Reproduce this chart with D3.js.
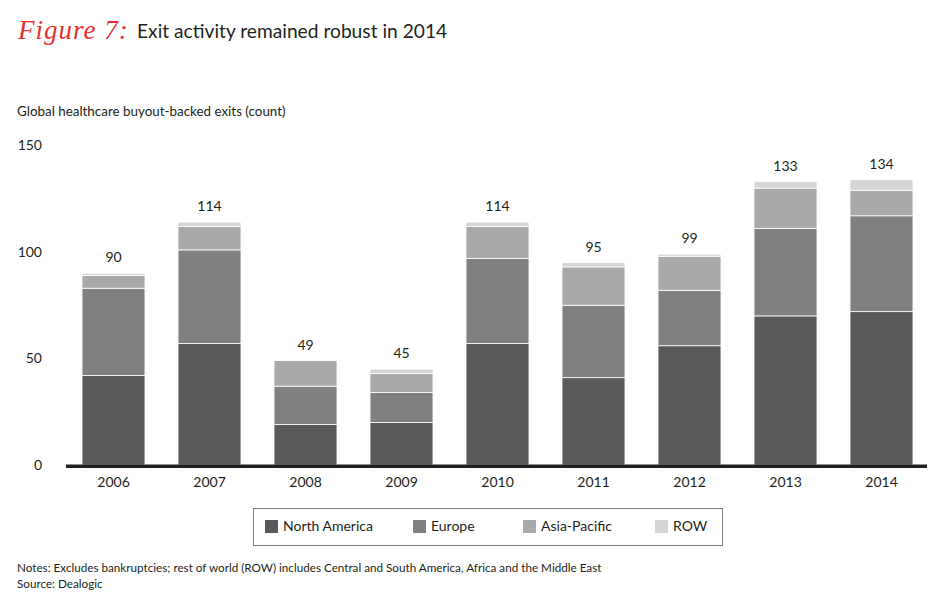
<!DOCTYPE html>
<html>
<head>
<meta charset="utf-8">
<script src="https://cdn.jsdelivr.net/npm/d3@7"></script>
<style>
	html, body { margin: 0; padding: 0; background: #fff; }
	svg text { font-family: Lato, "Open Sans", sans-serif; fill: #231f20; }
</style>
</head>
<body>
<svg id="chart" width="950" height="600"></svg>
<script>
// data
const years = ["2006", "2007", "2008", "2009", "2010", "2011", "2012", "2013", "2014"];
const regions = ["North America", "Europe", "Asia-Pacific", "ROW"];
const northAmerica = [42, 57, 19, 20, 57, 41, 56, 70, 72];
const europe       = [41, 44, 18, 14, 40, 34, 26, 41, 45];
const asiaPacific  = [6, 11, 12, 9, 15, 18, 16, 19, 12];
const row          = [1, 2, 0, 2, 2, 2, 1, 3, 5];
const totals       = [90, 114, 49, 45, 114, 95, 99, 133, 134];
const yTicks = [0, 50, 100, 150];

const colors = ["#59595b", "#808083", "#a8a9ab", "#d5d5d7"];

const svg = d3.select("#chart");

// 차트 영역
const x = d3.scaleBand()
			.domain(years)
			.range([65.5, 929.5])
			.paddingInner(0.344)
			.paddingOuter(0.172);

const y = d3.scaleLinear()
			.domain([0, 150])
			.range([465, 145.5]);

const table = years.map((yr, i) => ({
	year: yr,
	"North America": northAmerica[i],
	"Europe": europe[i],
	"Asia-Pacific": asiaPacific[i],
	"ROW": row[i]
}));

const series = d3.stack().keys(regions)(table);
const color = d3.scaleOrdinal().domain(regions).range(colors);

drawTitle();
drawBars();
drawAxes();
drawLegend();
drawNotes();

/** 제목 */
function drawTitle() {
	svg.append("text")
	   .attr("x", 18).attr("y", 39)
	   .style("font-family", "'Liberation Serif', serif")
	   .style("font-style", "italic")
	   .style("font-size", "27px")
	   .style("letter-spacing", "1px")
	   .style("fill", "#e8312f")
	   .text("Figure 7:");

	svg.append("text")
	   .attr("x", 137).attr("y", 38)
	   .style("font-size", "19.2px")
	   .text("Exit activity remained robust in 2014");

	svg.append("text")
	   .attr("x", 17).attr("y", 116)
	   .style("font-size", "13.4px")
	   .text("Global healthcare buyout-backed exits (count)");
}

/** 누적 막대 */
function drawBars() {
	const g = svg.append("g");

	g.selectAll("g.layer")
	 .data(series)
	 .join("g")
	 .attr("class", "layer")
	 .attr("fill", d => color(d.key))
	 .selectAll("rect")
	 .data(d => d)
	 .join("rect")
	 .attr("x", d => x(d.data.year))
	 .attr("width", x.bandwidth())
	 .attr("y", d => y(d[1]))
	 .attr("height", d => Math.max(0, y(d[0]) - y(d[1])))
	 .attr("stroke", "#fff")
	 .attr("stroke-width", 0.8);

	// 합계 라벨
	g.selectAll("text.total")
	 .data(years)
	 .join("text")
	 .attr("class", "total")
	 .attr("x", d => x(d) + x.bandwidth() / 2)
	 .attr("y", (d, i) => y(totals[i]) - 11)
	 .attr("text-anchor", "middle")
	 .style("font-size", "14px")
	 .text((d, i) => totals[i]);
}

/** 축 */
function drawAxes() {
	const yAxis = svg.append("g")
					 .attr("transform", "translate(42,0)")
					 .call(d3.axisLeft(y).tickValues(yTicks).tickSize(0).tickPadding(0));
	yAxis.select(".domain").remove();
	yAxis.selectAll("text")
		 .style("font-size", "14px")
		 .style("font-family", "Lato, sans-serif")
		 .attr("fill", "#231f20");

	const xAxis = svg.append("g")
					 .attr("transform", "translate(0,466)")
					 .call(d3.axisBottom(x).tickSize(0).tickPadding(11));
	xAxis.select(".domain").remove();
	xAxis.selectAll("text")
		 .style("font-size", "14px")
		 .style("font-family", "Lato, sans-serif")
		 .attr("fill", "#231f20");

	// 굵은 기준선
	svg.append("line")
	   .attr("x1", 66).attr("x2", 927)
	   .attr("y1", y(0) + 1.2).attr("y2", y(0) + 1.2)
	   .attr("stroke", "#231f20")
	   .attr("stroke-width", 3.4);
}

/** 범례 */
function drawLegend() {
	const itemX = [265, 413, 523, 655];
	const lg = svg.append("g");

	lg.append("rect")
	  .attr("x", 253.5).attr("y", 508.5)
	  .attr("width", 469).attr("height", 37)
	  .attr("fill", "none")
	  .attr("stroke", "#7f7f7f")
	  .attr("stroke-width", 1);

	const item = lg.selectAll("g.item")
				   .data(regions)
				   .join("g")
				   .attr("class", "item")
				   .attr("transform", (d, i) => `translate(${itemX[i]},520)`);

	item.append("rect")
		.attr("width", 13).attr("height", 13)
		.attr("fill", d => color(d));

	item.append("text")
		.attr("x", 18).attr("y", 11)
		.style("font-size", "14px")
		.text(d => d);
}

/** 주석 */
function drawNotes() {
	svg.append("text")
	   .attr("x", 17).attr("y", 572)
	   .style("font-size", "11.7px")
	   .text("Notes: Excludes bankruptcies; rest of world (ROW) includes Central and South America, Africa and the Middle East");

	svg.append("text")
	   .attr("x", 17).attr("y", 588)
	   .style("font-size", "11.7px")
	   .text("Source: Dealogic");
}
</script>
</body>
</html>
